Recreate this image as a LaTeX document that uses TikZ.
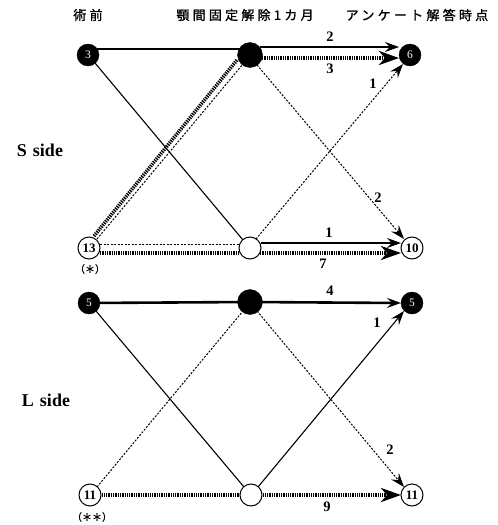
\documentclass[tikz,border=0pt]{standalone}
\usepackage{fontspec}
\setmainfont{Liberation Serif}
\newfontfamily\cjk{Noto Sans CJK JP}[LetterSpace=25,FakeBold=1.2]
\newfontfamily\cjkn{Noto Sans CJK JP}[FakeBold=1]
\usetikzlibrary{arrows.meta,backgrounds}
\begin{document}
\begin{tikzpicture}[x=1pt,y=-1pt,
  blk/.style={circle,fill=black,draw=black,inner sep=0pt,minimum size=22pt,text=white,font=\fontsize{11.5}{11.5}\selectfont},
  blkmid/.style={circle,fill=black,draw=black,inner sep=0pt,minimum size=25pt},
  wht/.style={circle,fill=white,draw=black,line width=1pt,inner sep=0pt,minimum size=22pt,font=\bfseries\fontsize{13}{13}\selectfont},
  solidln/.style={line width=1.1pt},
  thickln/.style={line width=2.6pt},
  thindot/.style={line width=1pt,dash pattern=on 2pt off 1.5pt},
  thickdot/.style={line width=3.6pt,dash pattern=on 1.3pt off 1pt},
  thintip/.style={-{Stealth[length=14pt,width=10pt,inset=5pt]}},
  bigtip/.style={-{Stealth[length=20pt,width=14pt,inset=6pt]}},
  elab/.style={font=\bfseries\fontsize{14.5}{14.5}\selectfont,inner sep=0pt},
  head/.style={font=\cjk\fontsize{13}{13}\selectfont,inner sep=0pt},
  side/.style={font=\bfseries\fontsize{18}{18}\selectfont,inner sep=0pt},
  star/.style={font=\cjkn\fontsize{10}{10}\selectfont,inner sep=0pt}]
\useasboundingbox (0,0) rectangle (498,525);

% headers
\node[head] (h1) at (88,15) {術前};
\node[head] (h2) at (245,15) {顎間固定解除1カ月};
\node[head] (h3) at (417,15) {アンケート解答時点};
\node[side] (ss) at (40,150) {S\,\,side};
\node[side] (ls) at (46,400) {L\,\,side};

% S side nodes
\node[blk] (A1) at (88,55) {3};
\node[blkmid] (B1) at (250,55) {};
\node[blk] (C1) at (410,55) {6};
\node[wht] (A2) at (89,248) {13};
\node[wht] (B2) at (250,248) {};
\node[wht] (C2) at (412,248) {10};
\node[star] (s1) at (90,269) {（＊）};

% L side nodes
\node[blk] (A3) at (89,303) {5};
\node[blkmid] (B3) at (250,302) {};
\node[blk] (C3) at (412,303) {5};
\node[wht] (A4) at (90,495) {11};
\node[wht] (B4) at (251,495) {};
\node[wht] (C4) at (412,495) {11};
\node[star] (s2) at (92,517) {（＊＊）};

\begin{pgfonlayer}{background}
% S side edges
\draw[solidln] ([shift={(9,-6)}]A1.center) -- ([shift={(-9,-6)}]B1.center);
\draw[solidln,thintip] ([shift={(10,-8)}]B1.center) -- ([shift={(-11,-8)}]C1.center);
\draw[thickdot,bigtip] ([shift={(12,3)}]B1.center) -- ([shift={(-11,3)}]C1.center);
\draw[thindot,thintip] ([shift={(7,10)}]B1.center) -- ([shift={(-8,-9)}]C2.center);
\draw[thindot,thintip] ([shift={(6,-9)}]B2.center) -- ([shift={(-7,9)}]C1.center);
\draw[solidln] ([shift={(7,8)}]A1.center) -- ([shift={(-7,-8)}]B2.center);
\draw[thickdot] ([shift={(5,-12)}]A2.center) -- ([shift={(-13,5)}]B1.center);
\draw[thindot] ([shift={(8,-9)}]A2.center) -- ([shift={(-7,9)}]B1.center);
\draw[thindot] ([shift={(11,-4)}]A2.center) -- ([shift={(-10,-4)}]B2.center);
\draw[thickdot] ([shift={(11,5)}]A2.center) -- ([shift={(-10,5)}]B2.center);
\draw[solidln,thintip] ([shift={(11,-5)}]B2.center) -- ([shift={(-11,-5)}]C2.center);
\draw[thickdot,bigtip] ([shift={(10,5)}]B2.center) -- ([shift={(-11,5)}]C2.center);

% L side edges
\draw[thickln] (A3.center) -- (B3.center);
\draw[thickln,thintip] (B3.center) -- ([shift={(-11,0)}]C3.center);
\draw[solidln] ([shift={(7,8)}]A3.center) -- ([shift={(-7,-8)}]B4.center);
\draw[thindot,thintip] ([shift={(7,9)}]B3.center) -- ([shift={(-8,-8)}]C4.center);
\draw[thindot] ([shift={(7,-8)}]A4.center) -- ([shift={(-7,9)}]B3.center);
\draw[solidln,thintip] ([shift={(7,-8)}]B4.center) -- ([shift={(-8,8)}]C3.center);
\draw[thickdot] (A4.center) -- (B4.center);
\draw[thickdot,bigtip] (B4.center) -- ([shift={(-11,0)}]C4.center);
\end{pgfonlayer}

% edge labels
\node[elab] (l1) at (330,37) {2};
\node[elab] (l2) at (330,69) {3};
\node[elab] (l3) at (373,84) {1};
\node[elab] (l4) at (378,198) {2};
\node[elab] (l5) at (329,233) {1};
\node[elab] (l6) at (323,264) {7};
\node[elab] (l7) at (330,291) {4};
\node[elab] (l8) at (377,323) {1};
\node[elab] (l9) at (390,450) {2};
\node[elab] (l10) at (327,507) {9};
\end{tikzpicture}
\end{document}
